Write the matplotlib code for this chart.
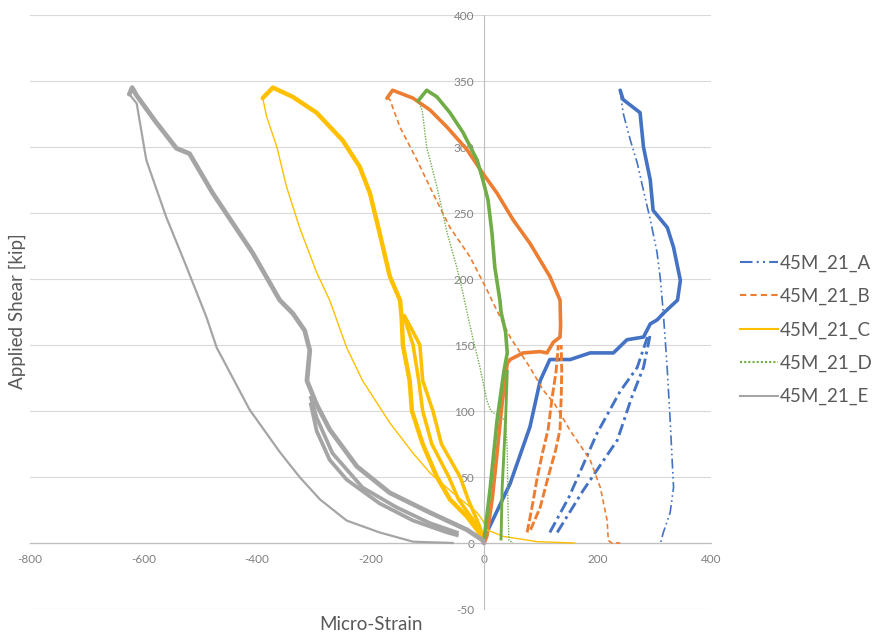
import matplotlib
matplotlib.use("Agg")
import matplotlib.pyplot as plt
from matplotlib.lines import Line2D

plt.rcParams['font.family'] = ['Lato', 'DejaVu Sans']

# ---------------- data (micro-strain, applied shear [kip]) ----------------
series_names = ["45M_21_A", "45M_21_B", "45M_21_C", "45M_21_D", "45M_21_E"]

# 45M_21_A
a_main_x = [0, 5, 46, 81, 99, 116, 152, 187, 228, 240, 252, 281, 293, 305, 316, 341, 346, 334, 323, 298, 293, 281, 275, 245, 240]
a_main_y = [0, 8, 45, 88, 123, 139, 139, 144, 144, 149, 154, 156, 166, 169, 174, 184, 199, 224, 239, 252, 275, 300, 326, 336, 343]
a_unl_x = [240, 245, 258, 270, 281, 293, 305, 311, 316, 319, 323, 328, 334, 328, 316, 311]
a_unl_y = [343, 326, 305, 288, 267, 245, 220, 199, 174, 156, 131, 93, 42, 23, 8, 0]
a_c1_x = [116, 150, 199, 240, 270, 288]
a_c1_y = [8, 35, 83, 115, 133, 156]
a_c2_x = [129, 175, 235, 260, 281, 293]
a_c2_y = [8, 40, 78, 110, 133, 158]

# 45M_21_B
b_main_x = [0, 5, 15, 23, 32, 41, 46, 69, 99, 111, 122, 134, 135, 134, 129, 116, 81, 51, 23, -2, -30, -65, -95, -125, -161, -171]
b_main_y = [0, 5, 35, 68, 106, 136, 139, 144, 145, 144, 152, 156, 165, 184, 189, 202, 227, 245, 265, 280, 298, 315, 328, 337, 343, 337]
b_unl_x = [-171, -166, -148, -118, -90, -60, -25, 5, 16, 46, 81, 104, 125, 152, 187, 205, 217, 219, 225, 240]
b_unl_y = [337, 336, 315, 290, 265, 239, 217, 192, 182, 156, 133, 116, 105, 85, 63, 42, 17, 2, 0, 0]
b_c1_x = [76, 85, 94, 104, 113, 120, 127, 131]
b_c1_y = [8, 28, 50, 70, 86, 110, 130, 150]
b_c2_x = [82, 99, 113, 126, 134, 136, 137, 136]
b_c2_y = [10, 27, 50, 70, 86, 110, 130, 150]

# 45M_21_C
c_main_x = [0, -30, -60, -83, -108, -127, -131, -143, -145, -148, -166, -184, -201, -219, -249, -295, -337, -372, -390]
c_main_y = [3, 20, 33, 50, 75, 100, 123, 150, 170, 184, 202, 235, 265, 285, 305, 326, 338, 345, 337]
c_unl_x = [-390, -383, -365, -348, -325, -295, -272, -242, -214, -184, -166, -125, -95, -55, -12, -2, 5, 34, 94, 160]
c_unl_y = [337, 323, 300, 270, 239, 205, 184, 148, 123, 103, 91, 68, 53, 38, 23, 17, 10, 5, 1, 0]
c_c1_x = [0, -20, -45, -62, -92, -108, -115, -125, -140]
c_c1_y = [3, 18, 33, 50, 75, 100, 123, 150, 170]
c_c2_x = [0, -10, -28, -42, -75, -90, -108, -113, -125, -140]
c_c2_y = [3, 15, 33, 50, 75, 100, 123, 150, 160, 172]

# 45M_21_D
d_main_x = [0, 11, 23, 35, 41, 38, 30, 28, 19, 14, 7, -2, -12, -37, -60, -83, -101, -116]
d_main_y = [2, 42, 93, 130, 144, 160, 175, 184, 209, 235, 260, 275, 290, 311, 326, 338, 343, 335]
d_unl_x = [-116, -109, -101, -83, -65, -48, -37, -28, -19, -7, 5, 12, 38, 41, 42, 44, 51]
d_unl_y = [335, 328, 300, 270, 235, 209, 189, 171, 154, 133, 108, 100, 93, 70, 33, 2, 0]
d_c1_x = [30, 32, 38, 41]
d_c1_y = [3, 42, 93, 130]

# 45M_21_E
e_main_x = [0, -2, -30, -95, -166, -224, -272, -295, -312, -307, -316, -337, -360, -408, -478, -519, -542, -580, -612, -620, -625]
e_main_y = [0, 2, 10, 23, 38, 58, 86, 105, 123, 146, 161, 174, 184, 220, 265, 295, 299, 320, 339, 345, 340]
e_unl_x = [-625, -612, -595, -560, -524, -489, -471, -413, -360, -325, -289, -242, -184, -125, -55]
e_unl_y = [340, 333, 290, 247, 209, 171, 148, 101, 69, 50, 33, 17, 8, 1, 0]
e_c1_x = [-48, -95, -154, -214, -267, -295, -305]
e_c1_y = [8, 15, 27, 42, 68, 95, 110]
e_c2_x = [-48, -65, -125, -184, -242, -272, -295, -305]
e_c2_y = [6, 8, 17, 30, 48, 63, 85, 105]

x_ticks = [-800, -600, -400, -200, 0, 200, 400]
y_ticks = [-50, 0, 50, 100, 150, 200, 250, 300, 350, 400]

# ---------------- styles ----------------
colors = ["#4472C4", "#ED7D31", "#FFC000", "#70AD47", "#A5A5A5"]
styles = [(0, (6, 2, 1, 2, 1, 2)), (0, (3, 2)), "-", (0, (1, 1)), "-"]
cycle_styles = [(0, (4, 1.5, 1, 1.5)), (0, (3, 1)), "-", "-", "-"]
thick = [2.6, 2.6, 3.2, 2.6, 3.4]
thin = [1.2, 1.2, 1.0, 1.0, 1.6]

fig = plt.figure(figsize=(8.77, 6.37), dpi=100)
ax = fig.add_axes([30 / 877, 28 / 637, 681 / 877, 594 / 637])

groups = [
    (a_main_x, a_main_y, a_unl_x, a_unl_y, [(a_c1_x, a_c1_y), (a_c2_x, a_c2_y)]),
    (b_main_x, b_main_y, b_unl_x, b_unl_y, [(b_c1_x, b_c1_y), (b_c2_x, b_c2_y)]),
    (c_main_x, c_main_y, c_unl_x, c_unl_y, [(c_c1_x, c_c1_y), (c_c2_x, c_c2_y)]),
    (d_main_x, d_main_y, d_unl_x, d_unl_y, [(d_c1_x, d_c1_y)]),
    (e_main_x, e_main_y, e_unl_x, e_unl_y, [(e_c1_x, e_c1_y), (e_c2_x, e_c2_y)]),
]

for i, (mx, my, ux, uy, cyc) in enumerate(groups):
    col = colors[i]
    for cx, cy in cyc:
        ax.plot(cx, cy, color=col, lw=thick[i] * 0.8, ls=cycle_styles[i],
                solid_joinstyle="round", zorder=2 + i)
    ax.plot(mx, my, color=col, lw=thick[i], ls="-", solid_joinstyle="round",
            solid_capstyle="round", zorder=2 + i)
    ax.plot(ux, uy, color=col, lw=thin[i], ls=styles[i], zorder=2 + i)

ax.set_xlim(-800, 400)
ax.set_ylim(-50, 400)
ax.set_xticks(x_ticks)
ax.set_yticks(y_ticks)
ax.set_xticklabels([str(v) for v in x_ticks])
ax.set_yticklabels([str(v) for v in y_ticks])

ax.grid(axis="y", color="#D9D9D9", lw=0.8)
ax.grid(axis="x", visible=False)
ax.set_axisbelow(True)

for s in ["top", "right"]:
    ax.spines[s].set_visible(False)
ax.spines["left"].set_position(("data", 0))
ax.spines["bottom"].set_position(("data", 0))
ax.spines["left"].set_color("#BFBFBF")
ax.spines["bottom"].set_color("#BFBFBF")
ax.spines["left"].set_linewidth(0.8)
ax.spines["bottom"].set_linewidth(0.9)
ax.tick_params(axis="both", length=0, labelsize=8.5, labelcolor="#808080")
ax.tick_params(axis="x", pad=8)
ax.tick_params(axis="y", pad=7)

fig.text(371 / 877, 1 - 625 / 637, "Micro-Strain", ha="center", va="center",
         fontsize=13.5, color="#595959")
fig.text(17 / 877, 1 - 311 / 637, "Applied Shear [kip]", ha="center", va="center",
         rotation=90, fontsize=13.5, color="#595959")

handles = [Line2D([0], [0], color=colors[i], lw=1.5, ls=styles[i]) for i in range(5)]
fig.legend(handles, series_names, loc="center left",
           bbox_to_anchor=(731 / 877, 1 - 330 / 637), frameon=False,
           fontsize=13.5, labelcolor="#595959", handlelength=2.0,
           handletextpad=0.1, labelspacing=0.86, borderpad=0)

fig.savefig("out.png", dpi=100)
